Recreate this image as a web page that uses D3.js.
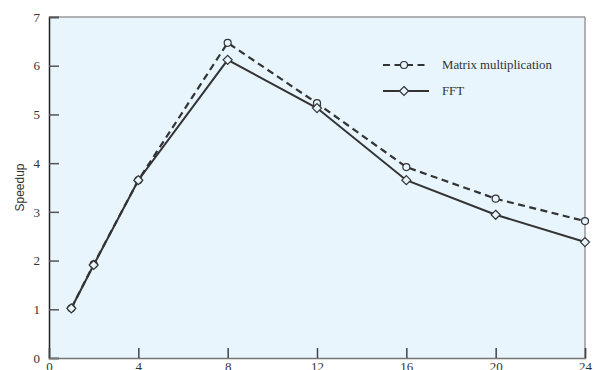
<!DOCTYPE html>
<html><head><meta charset="utf-8">
<script src="https://cdn.jsdelivr.net/npm/d3@7"></script>
<style>body{margin:0;background:#fff}svg{display:block}</style>
</head><body>
<svg id="c" width="596" height="370"></svg>
<script>
const processors = [1, 2, 4, 8, 12, 16, 20, 24];
const matrixMult = [1.02, 1.92, 3.65, 6.47, 5.23, 3.92, 3.27, 2.81];
const fft = [1.02, 1.91, 3.65, 6.12, 5.13, 3.65, 2.94, 2.38];
const xTicks = [0, 4, 8, 12, 16, 20, 24];
const yTicks = [0, 1, 2, 3, 4, 5, 6, 7];
const seriesNames = ["Matrix multiplication", "FFT"];

const svg = d3.select("#c");
const m = {l: 49, r: 11, t: 17, b: 12};
const W = 596, H = 370;
const x = d3.scaleLinear().domain([0, 24]).range([m.l, W - m.r]);
const y = d3.scaleLinear().domain([0, 7]).range([H - m.b, m.t]);

svg.append("rect").attr("x", x(0)).attr("y", y(7)).attr("width", x(24) - x(0)).attr("height", y(0) - y(7))
  .attr("fill", "#e8f5fd");
svg.append("line").attr("x1", x(0)).attr("x2", x(24)).attr("y1", y(7)).attr("y2", y(7)).attr("stroke", "#999").attr("stroke-width", 1.5);
svg.append("line").attr("x1", x(24)).attr("x2", x(24)).attr("y1", y(7)).attr("y2", y(0)).attr("stroke", "#999").attr("stroke-width", 1.5);

const serif = "'Liberation Serif','DejaVu Serif',serif";
const yAxis = svg.append("g").attr("transform", `translate(${x(0)},0)`)
  .call(d3.axisLeft(y).tickValues(yTicks).tickSize(-10).tickPadding(9).tickFormat(d3.format("d")));
yAxis.select(".domain").attr("stroke", "#222").attr("stroke-width", 1.5);
yAxis.selectAll(".tick line").attr("stroke", "#555").attr("stroke-width", 1.5);
yAxis.selectAll(".tick text").attr("font-family", serif).attr("font-size", 13).attr("fill", "#333");

const xAxis = svg.append("g").attr("transform", `translate(0,${y(0)})`)
  .call(d3.axisBottom(x).tickValues(xTicks).tickSize(-10).tickPadding(4).tickFormat(d3.format("d")));
xAxis.select(".domain").attr("stroke", "#777").attr("stroke-width", 1.5);
xAxis.selectAll(".tick line").attr("stroke", "#444").attr("stroke-width", 1.5);
xAxis.selectAll(".tick text").attr("font-family", serif).attr("font-size", 13).attr("fill", "#333");

svg.append("text").attr("transform", `translate(24,${(y(0) + y(7)) / 2}) rotate(-90)`)
  .attr("text-anchor", "middle").attr("font-family", "'Liberation Sans',Arial,sans-serif")
  .attr("font-size", 12).attr("fill", "#333").text("Speedup");

const line = d3.line().x((d, i) => x(processors[i])).y(d => y(d));
const col = "#333";
svg.append("path").datum(matrixMult).attr("d", line).attr("fill", "none").attr("stroke", col)
  .attr("stroke-width", 2.2).attr("stroke-dasharray", "7,4.5");
svg.append("path").datum(fft).attr("d", line).attr("fill", "none").attr("stroke", col)
  .attr("stroke-width", 2);

const diamond = (cx, cy, s) => `M${cx},${cy - s}L${cx + s},${cy}L${cx},${cy + s}L${cx - s},${cy}Z`;
svg.selectAll(".mm").data(matrixMult).enter().append("circle")
  .attr("cx", (d, i) => x(processors[i])).attr("cy", d => y(d)).attr("r", 3.5)
  .attr("fill", "#e8f5fd").attr("stroke", col).attr("stroke-width", 1.2);
svg.selectAll(".ff").data(fft).enter().append("path")
  .attr("d", (d, i) => diamond(x(processors[i]), y(d), 4.5))
  .attr("fill", "#e8f5fd").attr("stroke", col).attr("stroke-width", 1.2);

const lg = svg.append("g");
const ly = [65, 91];
lg.append("line").attr("x1", 383).attr("x2", 429).attr("y1", ly[0]).attr("y2", ly[0])
  .attr("stroke", col).attr("stroke-width", 2.2).attr("stroke-dasharray", "7,4.5");
lg.append("circle").attr("cx", 404).attr("cy", ly[0]).attr("r", 3.5).attr("fill", "#e8f5fd").attr("stroke", col).attr("stroke-width", 1.2);
lg.append("line").attr("x1", 383).attr("x2", 429).attr("y1", ly[1]).attr("y2", ly[1])
  .attr("stroke", col).attr("stroke-width", 2);
lg.append("path").attr("d", diamond(404, ly[1], 4.5)).attr("fill", "#e8f5fd").attr("stroke", col).attr("stroke-width", 1.2);
seriesNames.forEach((n, i) => {
  lg.append("text").attr("x", 442).attr("y", ly[i] + 4).attr("font-family", serif)
    .attr("font-size", 12.8).attr("fill", "#333").text(n);
});
</script>
</body></html>
